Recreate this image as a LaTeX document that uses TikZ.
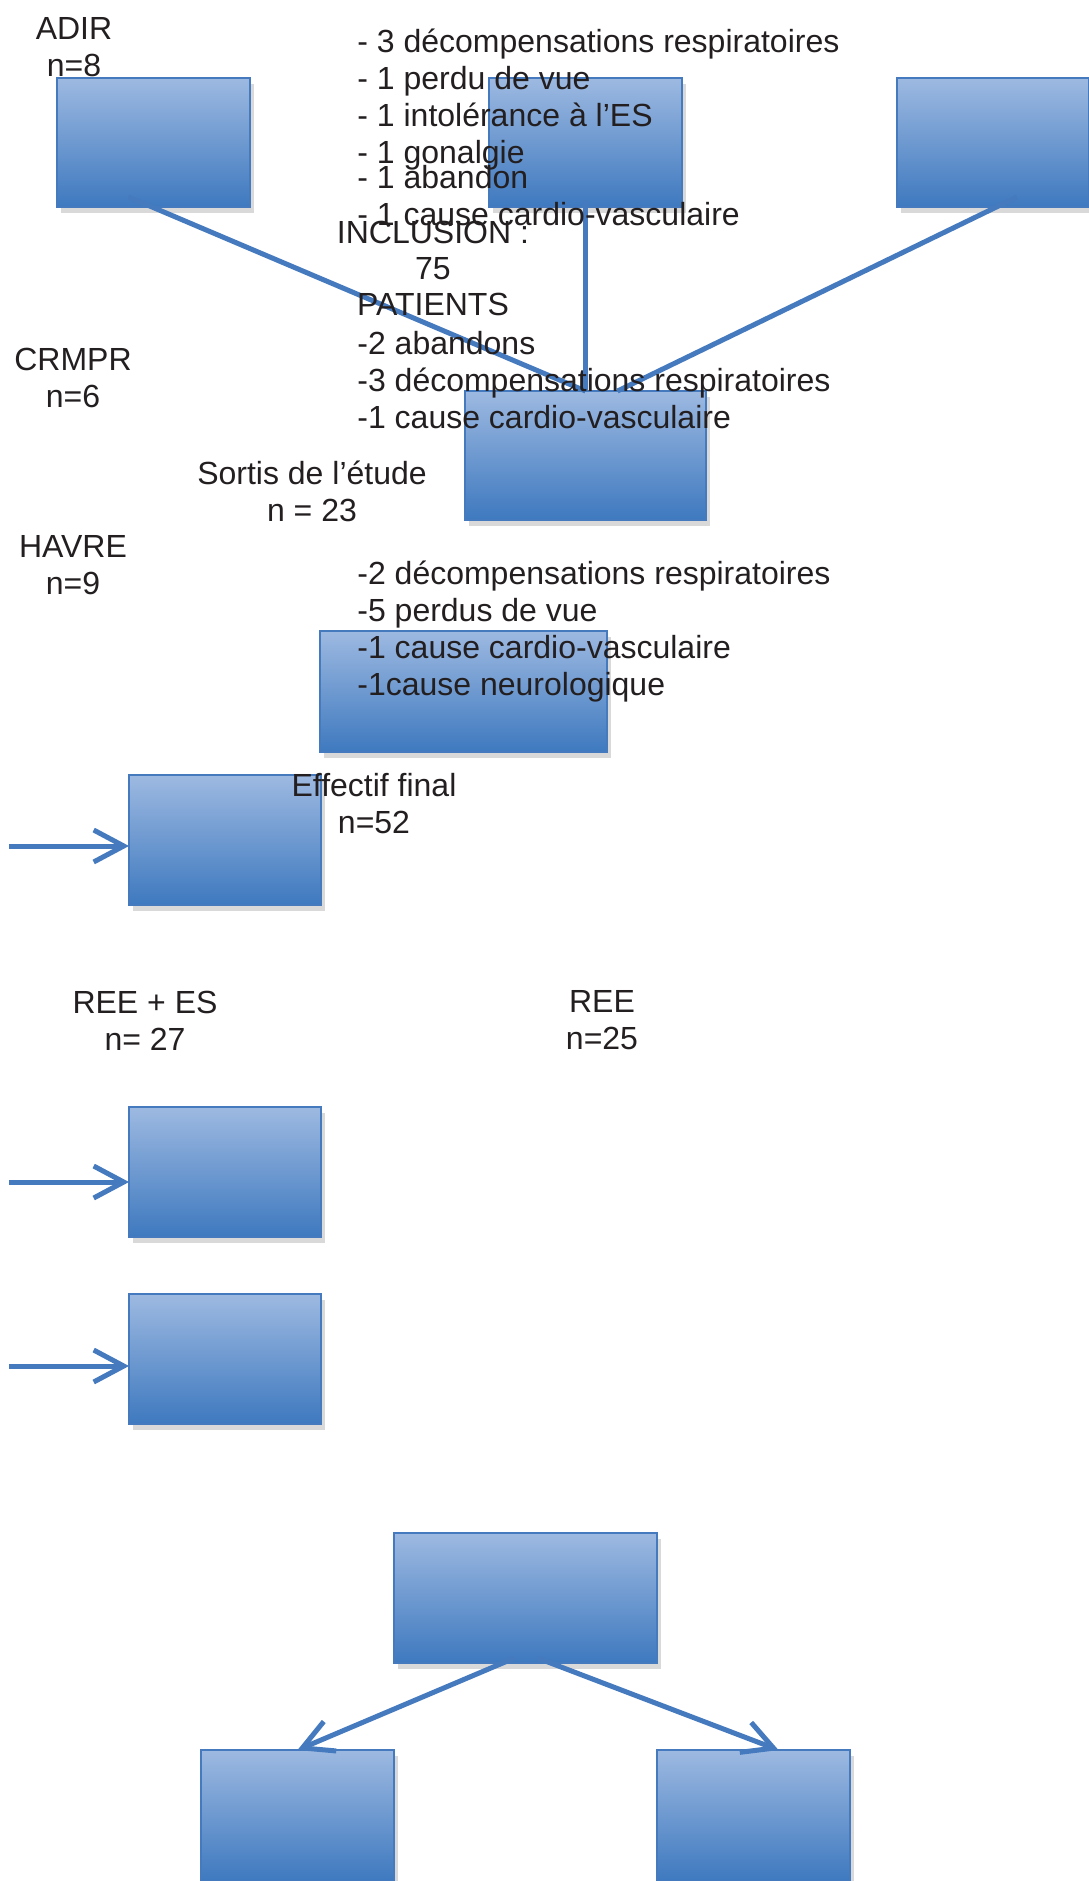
\documentclass[tikz,border=0pt]{standalone}
\usepackage{fontspec}
\setmainfont{Liberation Sans}
\usepackage{tikz}
\usetikzlibrary{arrows.meta,shadows}

\definecolor{boxtop}{RGB}{157,185,225}
\definecolor{boxbot}{RGB}{62,121,191}
\definecolor{boxedge}{RGB}{69,122,190}
\definecolor{txt}{RGB}{35,31,32}

\begin{document}
\begin{tikzpicture}[
    x=0.5pt, y=-0.5pt,
    box/.style = {draw=boxedge, line width=1pt, top color=boxtop, bottom color=boxbot,
                  inner sep=0pt, outer sep=0pt,
                  drop shadow={shadow xshift=2pt, shadow yshift=-3pt, opacity=0.3}},
    link/.style = {draw=boxedge, line width=2.5pt},
    arr/.style = {link, ->},
    lbl/.style = {text=txt, align=center, inner sep=0pt, font=\fontsize{16}{18.5}\selectfont},
    lst/.style = {lbl, align=left, anchor=west},
    >={Straight Barb[length=15pt, width=16pt]}
  ]
  \useasboundingbox (0,0) rectangle (1088,1881);

  % boxes
  \node[box, minimum width=96.5pt, minimum height=64.5pt] (adirbox) at (153.5,142.5) {};
  \node[box, minimum width=96.5pt, minimum height=64.5pt] (crmprbox) at (585.5,142.5) {};
  \node[box, minimum width=96pt, minimum height=64.5pt] (havrebox) at (993,142.5) {};
  \node[box, minimum width=120.5pt, minimum height=64.5pt] (inclbox) at (585.5,455.5) {};
  \node[box, minimum width=143.5pt, minimum height=60.5pt] (sortisbox) at (463.5,691.5) {};
  \node[box, minimum width=96pt, minimum height=65pt] (finalbox) at (225,840) {};
  \node[box, minimum width=96pt, minimum height=65pt] (reeesbox) at (225,1172) {};
  \node[box, minimum width=96pt, minimum height=65pt] (reebox) at (225,1359) {};
  \node[box, minimum width=131.5pt, minimum height=65pt] (splitbox) at (525.5,1598) {};
  \node[box, minimum width=96.5pt, minimum height=65.5pt] (esbox) at (297.5,1815.5) {};
  \node[box, minimum width=96.5pt, minimum height=65.5pt] (ctrlbox) at (753.5,1815.5) {};

  % connectors
  \draw[link] ([xshift=-12.5pt, yshift=5pt]adirbox.south) -- (inclbox.north);
  \draw[link] ([yshift=3.5pt]crmprbox.south) -- (inclbox.north);
  \draw[link] ([xshift=12pt, yshift=5pt]havrebox.south) -- ([xshift=16pt]inclbox.north);

  \coordinate (in1) at (9,846);
  \coordinate (in2) at (9,1182);
  \coordinate (in3) at (9,1366);
  \draw[arr] (in1) -- (finalbox.west |- in1);
  \draw[arr] (in2) -- (reeesbox.west |- in2);
  \draw[arr] (in3) -- (reebox.west |- in3);

  \draw[arr] ([xshift=-5.5pt, yshift=2.5pt]splitbox.south) -- (esbox.north);
  \draw[arr] ([xshift=6pt, yshift=2.5pt]splitbox.south) -- ([xshift=12.5pt]ctrlbox.north);

  % texts
  \node[lbl] (adir) at (74,47) {ADIR\\n=8};
  \node[lst] (motifs1) at (357,100) {- 3 décompensations respiratoires\\- 1 perdu de vue\\- 1 intolérance à l’ES\\- 1 gonalgie};
  \node[lst] (motifs2) at (357,196) {- 1 abandon\\- 1 cause cardio-vasculaire};
  \node[lbl, font=\fontsize{16}{18}\selectfont] (incl) at (433,268) {INCLUSION :\\75\\PATIENTS};
  \node[lst] (motifs3) at (357,380) {-2 abandons\\-3 décompensations respiratoires\\-1 cause cardio-vasculaire};
  \node[lbl] (crmpr) at (73,378) {CRMPR\\n=6};
  \node[lbl] (sortis) at (312,491) {Sortis de l’étude\\n = 23};
  \node[lbl] (havre) at (73,565.5) {HAVRE\\n=9};
  \node[lst] (motifs4) at (357,631.5) {-2 décompensations respiratoires\\-5 perdus de vue\\-1 cause cardio-vasculaire\\-1cause neurologique};
  \node[lbl] (final) at (374,804) {Effectif final\\n=52};
  \node[lbl] (reees) at (145,1020.5) {REE + ES\\n= 27};
  \node[lbl] (ree) at (602,1020.5) {REE\\n=25};
\end{tikzpicture}
\end{document}
